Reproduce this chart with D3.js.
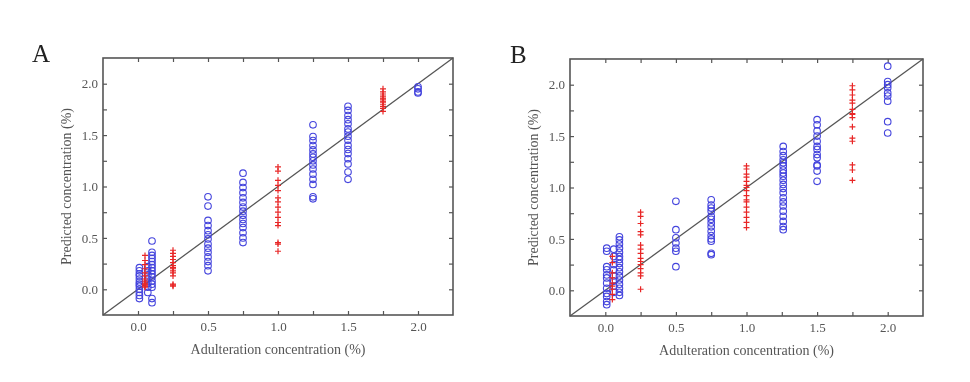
<!DOCTYPE html>
<html>
<head>
<meta charset="utf-8">
<script src="https://cdn.jsdelivr.net/npm/d3@7"></script>
<style>
  body { margin: 0; background: #fff; }
  text { font-family: "Liberation Serif", "DejaVu Serif", serif; }
</style>
</head>
<body>
<div id="chart"></div>
<script>
// panel A: calibration (blue circles) and prediction (red crosses)
const aCircles = [
  [0.01, [-0.09, -0.06, -0.03, 0, 0.03, 0.05, 0.07, 0.1, 0.13, 0.15, 0.18, 0.21]],
  [0.07, [-0.03, 0.02, 0.06, 0.1, 0.14, 0.18, 0.22]],
  [0.1, [0.47, 0.36, 0.33, 0.3, 0.27, 0.24, 0.21, 0.18, 0.15, 0.12, 0.08, 0.05, 0.02, -0.09, -0.13]],
  [0.5, [0.9, 0.81, 0.67, 0.62, 0.57, 0.53, 0.49, 0.44, 0.4, 0.36, 0.315, 0.27, 0.23, 0.18]],
  [0.75, [1.13, 1.04, 0.99, 0.94, 0.89, 0.845, 0.8, 0.76, 0.72, 0.68, 0.64, 0.6, 0.55, 0.5, 0.455]],
  [1.25, [1.6, 1.486, 1.447, 1.398, 1.356, 1.317, 1.284, 1.25, 1.21, 1.17, 1.12, 1.07, 1.02, 0.9, 0.88]],
  [1.5, [1.78, 1.74, 1.69, 1.65, 1.61, 1.56, 1.53, 1.49, 1.45, 1.4, 1.36, 1.32, 1.27, 1.22, 1.14, 1.07]],
  [2.0, [1.97, 1.95, 1.92, 1.91]]
];
const aCrosses = [
  [0.05, [0.33, 0.28, 0.24, 0.2, 0.16, 0.13, 0.1, 0.08, 0.06, 0.05, 0.04, 0.03, 0.02]],
  [0.25, [0.38, 0.35, 0.32, 0.29, 0.26, 0.23, 0.21, 0.2, 0.18, 0.16, 0.13, 0.05, 0.04, 0.03]],
  [1.0, [1.19, 1.15, 1.06, 1.01, 0.96, 0.89, 0.85, 0.8, 0.75, 0.7, 0.65, 0.62, 0.455, 0.44, 0.37]],
  [1.75, [1.95, 1.92, 1.9, 1.88, 1.86, 1.85, 1.83, 1.82, 1.8, 1.78, 1.76, 1.73]]
];

// panel B
const bCircles = [
  [0.01, [0.41, 0.38, 0.23, 0.2, 0.15, 0.12, 0.07, 0.02, -0.03, -0.06, -0.11, -0.14]],
  [0.06, [0.4, 0.33, 0.25, 0.2, 0.14, 0.09, 0.04, -0.02]],
  [0.1, [0.52, 0.49, 0.45, 0.41, 0.37, 0.33, 0.3, 0.26, 0.22, 0.18, 0.14, 0.1, 0.06, 0.02, -0.02, -0.05]],
  [0.5, [0.866, 0.59, 0.51, 0.46, 0.41, 0.38, 0.23]],
  [0.75, [0.88, 0.83, 0.8, 0.77, 0.72, 0.69, 0.655, 0.617, 0.574, 0.532, 0.5, 0.477, 0.36, 0.347]],
  [1.26, [1.4, 1.35, 1.31, 1.27, 1.24, 1.21, 1.17, 1.14, 1.11, 1.07, 1.03, 0.99, 0.95, 0.9, 0.86, 0.82, 0.77, 0.72, 0.67, 0.62, 0.59]],
  [1.5, [1.66, 1.61, 1.55, 1.5, 1.45, 1.4, 1.37, 1.32, 1.29, 1.22, 1.21, 1.16, 1.06]],
  [2.0, [2.18, 2.03, 2.0, 1.97, 1.92, 1.89, 1.84, 1.64, 1.53]]
];
const bCrosses = [
  [0.05, [0.33, 0.27, 0.17, 0.12, 0.07, 0.04, 0.01, -0.04, -0.09]],
  [0.25, [0.76, 0.72, 0.65, 0.57, 0.54, 0.44, 0.4, 0.36, 0.31, 0.28, 0.25, 0.21, 0.17, 0.14, 0.01]],
  [1.0, [1.21, 1.18, 1.13, 1.1, 1.06, 1.02, 1.0, 0.97, 0.92, 0.88, 0.86, 0.81, 0.76, 0.71, 0.66, 0.61]],
  [1.75, [1.99, 1.95, 1.9, 1.85, 1.82, 1.76, 1.72, 1.71, 1.68, 1.59, 1.48, 1.45, 1.22, 1.17, 1.07]]
];

const axisDomain = [-0.25, 2.25];
const tickValues = [0, 0.25, 0.5, 0.75, 1.0, 1.25, 1.5, 1.75, 2.0];
const xTitle = "Adulteration concentration (%)";
const yTitle = "Predicted concentration (%)";

const svgWidth = 970;
const svgHeight = 382;
const serif = "'Liberation Serif', 'DejaVu Serif', serif";

const svg = d3.select("#chart")
  .append("svg")
  .attr("width", svgWidth)
  .attr("height", svgHeight)
  .attr("font-family", serif);

svg.append("rect").attr("width", svgWidth).attr("height", svgHeight).attr("fill", "#fff");

// slight softening, the source picture is a blurred scan
svg.append("defs").append("filter")
  .attr("id", "soft")
  .append("feGaussianBlur")
  .attr("stdDeviation", 0.35);

const root = svg.append("g").attr("filter", "url(#soft)");

const fmt = d => (Math.abs(d * 2 - Math.round(d * 2)) < 1e-6) ? d3.format(".1f")(d) : "";

function flatten(groups) {
  const out = [];
  groups.forEach(g => g[1].forEach(v => out.push({ x: g[0], y: v })));
  return out;
}

function drawPanel(left, top, width, height, letter, letterDx, circles, crosses) {
  const g = root.append("g").attr("transform", `translate(${left}, ${top})`);

  const xScale = d3.scaleLinear().domain(axisDomain).range([0, width]);
  const yScale = d3.scaleLinear().domain(axisDomain).range([height, 0]);

  // axes with inward ticks
  g.append("g").attr("transform", `translate(0, ${height})`)
    .call(d3.axisBottom(xScale).tickValues(tickValues).tickSize(-4).tickSizeOuter(0).tickPadding(7).tickFormat(fmt));
  g.append("g")
    .call(d3.axisLeft(yScale).tickValues(tickValues).tickSize(-4).tickSizeOuter(0).tickPadding(5).tickFormat(fmt));
  g.append("g")
    .call(d3.axisTop(xScale).tickValues(tickValues).tickSize(-4).tickSizeOuter(0).tickFormat(""));
  g.append("g").attr("transform", `translate(${width}, 0)`)
    .call(d3.axisRight(yScale).tickValues(tickValues).tickSize(-4).tickSizeOuter(0).tickFormat(""));

  g.selectAll(".domain").remove();
  g.selectAll(".tick line").attr("stroke", "#555").attr("stroke-width", 1.2);
  g.selectAll(".tick text")
    .attr("fill", "#555")
    .attr("font-family", serif)
    .style("font-size", "13px");

  // diagonal y = x
  g.append("line")
    .attr("x1", xScale(axisDomain[0])).attr("y1", yScale(axisDomain[0]))
    .attr("x2", xScale(axisDomain[1])).attr("y2", yScale(axisDomain[1]))
    .attr("stroke", "#555")
    .attr("stroke-width", 1.3);

  g.selectAll("circle.cal")
    .data(flatten(circles))
    .enter()
    .append("circle")
    .attr("class", "cal")
    .attr("cx", d => xScale(d.x))
    .attr("cy", d => yScale(d.y))
    .attr("r", 3.3)
    .attr("fill", "none")
    .attr("stroke", "#4444dd")
    .attr("stroke-width", 1.1);

  g.selectAll("path.pred")
    .data(flatten(crosses))
    .enter()
    .append("path")
    .attr("class", "pred")
    .attr("transform", d => `translate(${xScale(d.x)}, ${yScale(d.y)})`)
    .attr("d", "M-3,0H3M0,-3V3")
    .attr("stroke", "#e82828")
    .attr("stroke-width", 1.2);

  // frame
  g.append("rect")
    .attr("width", width)
    .attr("height", height)
    .attr("fill", "none")
    .attr("stroke", "#555")
    .attr("stroke-width", 1.6);

  g.append("text")
    .attr("x", width / 2)
    .attr("y", height + 39)
    .attr("text-anchor", "middle")
    .attr("fill", "#555")
    .style("font-size", "14px")
    .text(xTitle);

  g.append("text")
    .attr("transform", "rotate(-90)")
    .attr("x", -height / 2)
    .attr("y", -32)
    .attr("text-anchor", "middle")
    .attr("fill", "#555")
    .style("font-size", "14px")
    .text(yTitle);

  g.append("text")
    .attr("x", letterDx)
    .attr("y", 4)
    .attr("fill", "#222")
    .style("font-size", "25px")
    .text(letter);
}

drawPanel(103, 58, 350, 257, "A", -71, aCircles, aCrosses);
drawPanel(570, 59, 353, 257, "B", -60, bCircles, bCrosses);
</script>
</body>
</html>
